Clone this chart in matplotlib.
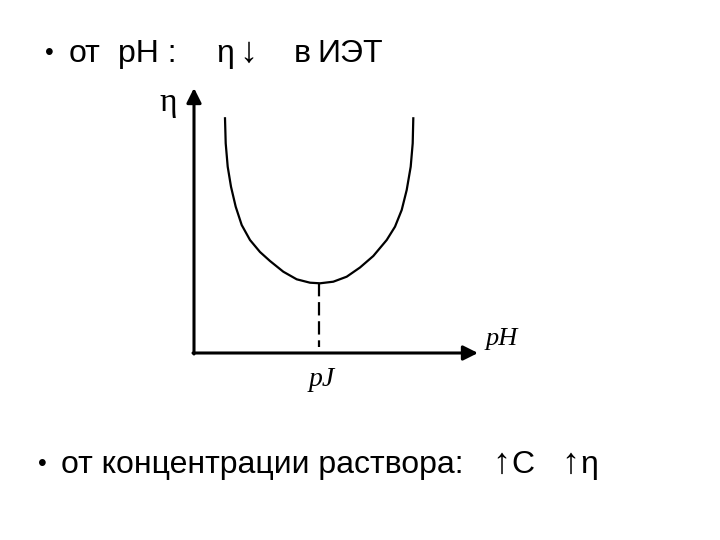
import matplotlib
matplotlib.use("Agg")
import matplotlib.pyplot as plt

# curve of viscosity vs pH (sketch units, origin at the axes corner)
curve_x = [31, 31.7, 33.7, 37, 41.7, 47.7, 56, 66, 76, 89.3, 102.7, 116, 126,
           139.3, 152.7, 166, 179.3, 192.7, 201, 207.7, 212.7, 216.7, 218.7, 219.3]
curve_y = [234.7, 209.7, 186.3, 166.3, 146.3, 128, 113, 101, 92, 81.3, 73.7, 70.3, 69.7,
           71.3, 76.3, 85.5, 97, 113, 126.3, 143, 163, 186.3, 209.7, 234.7]

# isoelectric point
iep_x = 125
iep_y = 69.7

x_axis_end = 284
y_axis_end = 265

# slide text pieces: (text, left edge px, kind)
top_parts = [("•", 45, "bullet"), ("от", 69, "text"), ("pH :", 118, "text"),
             ("η", 216, "text"), ("↓", 239, "arrow"), ("в", 294, "text"), ("ИЭТ", 317, "text")]
bottom_parts = [("•", 38, "bullet"), ("от концентрации раствора:", 61, "text"),
                ("↑", 492, "arrow"), ("C", 511, "text"), ("↑", 561, "arrow"), ("η", 580, "text")]
TOP_BASELINE = 62
BOTTOM_BASELINE = 473
SIZES = {"bullet": 18, "text": 23, "arrow": 26}

SANS = ["Liberation Sans", "DejaVu Sans"]
SERIF = ["Liberation Serif", "DejaVu Serif"]

fig = plt.figure(figsize=(7.2, 5.4), dpi=100)
ax = fig.add_axes([0, 0, 1, 1])
ax.set_xlim(-194, 526)
ax.set_ylim(-187, 353)
ax.axis("off")

# axes arrows
arrow = dict(arrowstyle="-|>", color="black", lw=2.2, mutation_scale=22,
             shrinkA=0, shrinkB=0)
ax.annotate("", xy=(x_axis_end, 0), xytext=(-1, 0), arrowprops=arrow)
ax.annotate("", xy=(0, y_axis_end), xytext=(0, -1), arrowprops=arrow)

# curve and dashed drop line
ax.plot(curve_x, curve_y, color="black", lw=1.6, solid_joinstyle="round")
ax.plot([iep_x, iep_x], [iep_y, 6], color="black", lw=1.6,
        linestyle=(0, (6, 2.6)))

# axis labels
ax.text(-26, 250, "η", family=SERIF, fontsize=24, ha="center", va="center")
ax.text(292, 14, "pH", family=SERIF, style="italic", fontsize=19,
        ha="left", va="center")
ax.text(iep_x + 3, -27, "pJ", family=SERIF, style="italic", fontsize=20,
        ha="center", va="center")


def put_line(parts, baseline):
    for label, px, kind in parts:
        y = 353 - baseline
        if kind == "bullet":
            y += 2
        ax.text(px - 194, y, label, family=SANS, fontsize=SIZES[kind],
                ha="left", va="baseline")


put_line(top_parts, TOP_BASELINE)
put_line(bottom_parts, BOTTOM_BASELINE)

fig.savefig("out.png", dpi=100)
